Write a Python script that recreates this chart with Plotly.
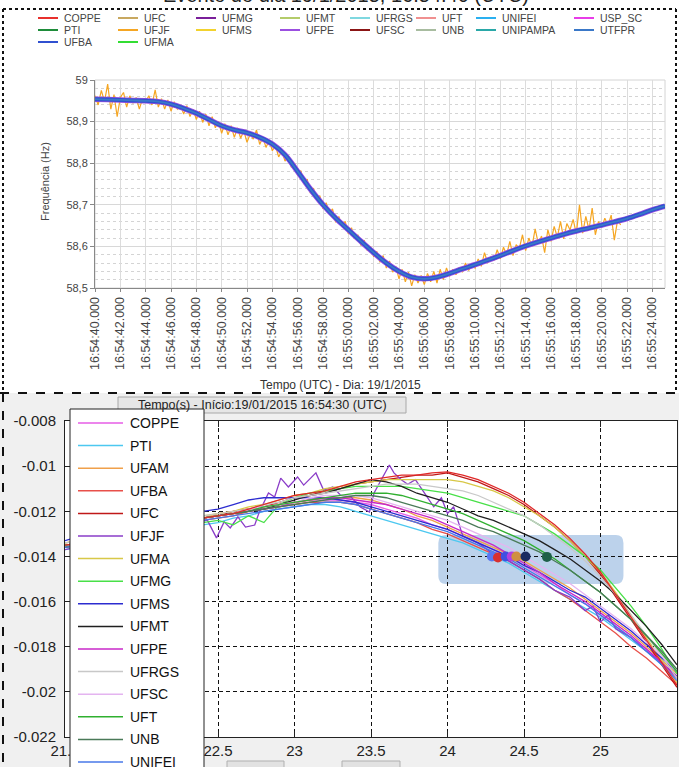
import plotly.graph_objects as go
from datetime import datetime, timedelta

W, H = 679, 767

# ---------------- TOP PANEL DATA ----------------
top_start = datetime(2015, 1, 19, 16, 54, 40)
top_tick_seconds = list(range(0, 46, 2))

base_seconds = list(range(46))
base_freq = [58.954, 58.953, 58.952, 58.951, 58.950, 58.948, 58.942, 58.932, 58.920, 58.905,
             58.890, 58.880, 58.873, 58.862, 58.846, 58.820, 58.780, 58.738, 58.700, 58.668,
             58.640, 58.612, 58.585, 58.560, 58.540, 58.526, 58.522, 58.526, 58.535, 58.546,
             58.556, 58.567, 58.578, 58.590, 58.601, 58.611, 58.620, 58.629, 58.637, 58.644,
             58.651, 58.659, 58.667, 58.677, 58.688, 58.697]

ufjf_seconds = [i * 0.25 for i in range(167)]
ufjf_freq = [58.962, 58.940, 58.975, 58.948, 58.990, 58.930, 58.965, 58.912,
             58.958, 58.970, 58.935, 58.962, 58.944, 58.958, 58.930, 58.955,
             58.948, 58.962, 58.940, 58.976, 58.935, 58.955, 58.930, 58.952,
             58.925, 58.948, 58.930, 58.940, 58.918, 58.938, 58.912, 58.930,
             58.905, 58.925, 58.898, 58.918, 58.890, 58.912, 58.885, 58.900,
             58.872, 58.895, 58.868, 58.890, 58.862, 58.885, 58.860, 58.878,
             58.850, 58.870, 58.858, 58.880, 58.845, 58.862, 58.838, 58.855,
             58.830, 58.842, 58.815, 58.830, 58.805, 58.818, 58.790, 58.800,
             58.770, 58.782, 58.750, 58.762, 58.728, 58.740, 58.712, 58.722,
             58.690, 58.705, 58.680, 58.690, 58.658, 58.672, 58.648, 58.660,
             58.630, 58.645, 58.618, 58.628, 58.602, 58.615, 58.590, 58.600,
             58.575, 58.588, 58.562, 58.578, 58.548, 58.565, 58.538, 58.552,
             58.522, 58.545, 58.515, 58.538, 58.505, 58.532, 58.512, 58.530,
             58.508, 58.535, 58.515, 58.540, 58.512, 58.545, 58.520, 58.548,
             58.528, 58.545, 58.532, 58.550, 58.538, 58.560, 58.542, 58.556,
             58.548, 58.570, 58.552, 58.585, 58.560, 58.575, 58.566, 58.592,
             58.570, 58.598, 58.580, 58.612, 58.578, 58.604, 58.595, 58.628,
             58.590, 58.620, 58.600, 58.642, 58.606, 58.625, 58.585, 58.640,
             58.612, 58.648, 58.622, 58.660, 58.618, 58.655, 58.640, 58.665,
             58.630, 58.700, 58.632, 58.672, 58.640, 58.692, 58.628, 58.660,
             58.645, 58.668, 58.650, 58.675, 58.615, 58.662, 58.652]

top_names = ["COPPE", "PTI", "UFBA", "UFC", "UFJF", "UFMA", "UFMG", "UFMS", "UFMT",
             "UFPE", "UFRGS", "UFSC", "UFT", "UNB", "UNIFEI", "UNIPAMPA", "USP_SC", "UTFPR"]
top_colors = ["#e8302c", "#1e8c3a", "#3050d0", "#c8a860", "#f5a623", "#33dd33", "#7a1f9a",
              "#f2d22e", "#b4cc6a", "#9b4fe0", "#7fd8e0", "#8b1515", "#f09090", "#a8bca0",
              "#2ab0f0", "#2aa8a8", "#e83ce8", "#3a78c8"]
top_legend_columns = [["COPPE", "PTI", "UFBA"], ["UFC", "UFJF", "UFMA"], ["UFMG", "UFMS"],
                      ["UFMT", "UFPE"], ["UFRGS", "UFSC"], ["UFT", "UNB"],
                      ["UNIFEI", "UNIPAMPA"], ["USP_SC", "UTFPR"]]
top_yticks = [58.5, 58.6, 58.7, 58.8, 58.9, 59.0]
top_yticktext = ["58,5", "58,6", "58,7", "58,8", "58,9", "59"]

# ---------------- BOTTOM PANEL DATA ----------------
grid_x = [round(21.5 + 0.1 * i, 1) for i in range(41)]

coppe = [-0.0135, -0.0134, -0.0132, -0.0131, -0.0129, -0.0128, -0.0127, -0.0126, -0.0124, -0.0123,
         -0.0122, -0.0121, -0.0120, -0.0118, -0.0117, -0.0116, -0.0115, -0.0115, -0.0115, -0.0116,
         -0.0117, -0.0119, -0.0121, -0.0123, -0.0126, -0.0128, -0.0131, -0.0134, -0.0137, -0.0140,
         -0.0144, -0.0148, -0.0152, -0.0157, -0.0161, -0.0166, -0.0171, -0.0176, -0.0181, -0.0187, -0.0193]
pti = [-0.0137, -0.0136, -0.0134, -0.0133, -0.0131, -0.0130, -0.0129, -0.0128, -0.0127, -0.0126,
       -0.0125, -0.0123, -0.0122, -0.0120, -0.0119, -0.0118, -0.0117, -0.0117, -0.0118, -0.0120,
       -0.0122, -0.0124, -0.0126, -0.0128, -0.0130, -0.0132, -0.0134, -0.0137, -0.0140, -0.0143,
       -0.0147, -0.0151, -0.0155, -0.0159, -0.0163, -0.0167, -0.0172, -0.0177, -0.0182, -0.0188, -0.0194]
ufam = [-0.0134, -0.0133, -0.0131, -0.0130, -0.0129, -0.0127, -0.0126, -0.0125, -0.0124, -0.0123,
        -0.0121, -0.0120, -0.0119, -0.0118, -0.0117, -0.0116, -0.0115, -0.0114, -0.0114, -0.0114,
        -0.0115, -0.0117, -0.0119, -0.0122, -0.0124, -0.0127, -0.0130, -0.0133, -0.0136, -0.0139,
        -0.0142, -0.0146, -0.0150, -0.0154, -0.0159, -0.0164, -0.0169, -0.0174, -0.0180, -0.0186, -0.0192]
ufba = [-0.0136, -0.0135, -0.0133, -0.0132, -0.0130, -0.0129, -0.0128, -0.0126, -0.0125, -0.0124,
        -0.0123, -0.0122, -0.0120, -0.0119, -0.0118, -0.0117, -0.0116, -0.0116, -0.0116, -0.0117,
        -0.0119, -0.0121, -0.0123, -0.0125, -0.0128, -0.0130, -0.0133, -0.0136, -0.0139, -0.0142,
        -0.0146, -0.0150, -0.0155, -0.0159, -0.0164, -0.0169, -0.0174, -0.0180, -0.0185, -0.0191, -0.0197]
ufc = [-0.0136, -0.0134, -0.0133, -0.0131, -0.0130, -0.0128, -0.0127, -0.0125, -0.0124, -0.0123,
       -0.0122, -0.0120, -0.0119, -0.0118, -0.0116, -0.0114, -0.0113, -0.0111, -0.0110, -0.0108,
       -0.0107, -0.0106, -0.0105, -0.0104, -0.0104, -0.0103, -0.0105, -0.0107, -0.0110, -0.0113,
       -0.0117, -0.0122, -0.0127, -0.0133, -0.0140, -0.0148, -0.0158, -0.0168, -0.0178, -0.0188, -0.0198]
ufjf_x = [21.5, 21.7, 21.9, 22.1, 22.3, 22.43, 22.49, 22.54, 22.58, 22.63,
          22.68, 22.74, 22.77, 22.83, 22.87, 22.91, 22.96, 23.02, 23.06, 23.14,
          23.19, 23.25, 23.30, 23.37, 23.43, 23.49, 23.52, 23.58, 23.62, 23.65,
          23.70, 23.74, 23.79, 23.84, 23.91, 23.96, 24.00, 24.04, 24.10, 24.20,
          24.30, 24.40, 24.50, 24.60, 24.70, 24.80, 24.90, 24.95, 25.00, 25.05,
          25.10, 25.20, 25.30, 25.40, 25.50]
ufjf_y = [-0.0137, -0.0134, -0.0131, -0.0128, -0.0126, -0.01239, -0.01318, -0.01247, -0.01274, -0.01225,
          -0.01270, -0.01261, -0.01203, -0.01119, -0.01137, -0.01053, -0.01092, -0.01048, -0.01084, -0.01030,
          -0.01106, -0.01092, -0.01128, -0.01137, -0.01181, -0.01203, -0.01119, -0.01048, -0.00995, -0.01030,
          -0.01061, -0.0108, -0.0106, -0.0111, -0.0118, -0.0114, -0.0121, -0.0118, -0.0131, -0.0134,
          -0.0139, -0.0142, -0.0146, -0.0150, -0.0155, -0.0158, -0.0164, -0.0162, -0.0169, -0.0166,
          -0.0172, -0.0176, -0.0182, -0.0187, -0.0193]
ufma = [-0.0134, -0.0133, -0.0131, -0.0130, -0.0128, -0.0127, -0.0126, -0.0124, -0.0123, -0.0122,
        -0.0121, -0.0120, -0.0118, -0.0117, -0.0115, -0.0113, -0.0112, -0.0110, -0.0109, -0.0108,
        -0.0107, -0.0106, -0.0106, -0.0106, -0.0106, -0.0106, -0.0107, -0.0109, -0.0111, -0.0114,
        -0.0118, -0.0122, -0.0127, -0.0133, -0.0140, -0.0147, -0.0156, -0.0166, -0.0176, -0.0186, -0.0196]
ufmg = [-0.0136, -0.0135, -0.0133, -0.0132, -0.0130, -0.0129, -0.0128, -0.0127, -0.0126, -0.0125,
        -0.0124, -0.0126, -0.0122, -0.0125, -0.0117, -0.0114, -0.0112, -0.0111, -0.0110, -0.0109,
        -0.0109, -0.0109, -0.0109, -0.0110, -0.0111, -0.0112, -0.0114, -0.0116, -0.0118, -0.0120,
        -0.0122, -0.0126, -0.0130, -0.0135, -0.0140, -0.0146, -0.0154, -0.0162, -0.0171, -0.0181, -0.0192]
ufms = [-0.0133, -0.0131, -0.0130, -0.0128, -0.0127, -0.0126, -0.0124, -0.0123, -0.0122, -0.0120,
        -0.0119, -0.0117, -0.0115, -0.0114, -0.0114, -0.0114, -0.0114, -0.0114, -0.0115, -0.0116,
        -0.0118, -0.0120, -0.0122, -0.0124, -0.0126, -0.0128, -0.0131, -0.0134, -0.0137, -0.0140,
        -0.0144, -0.0147, -0.0151, -0.0155, -0.0158, -0.0163, -0.0168, -0.0173, -0.0179, -0.0185, -0.0191]
ufmt = [-0.0135, -0.0134, -0.0132, -0.0131, -0.0129, -0.0128, -0.0127, -0.0125, -0.0124, -0.0123,
        -0.0122, -0.0121, -0.0120, -0.0119, -0.0117, -0.0115, -0.0113, -0.0112, -0.0110, -0.0108,
        -0.0106, -0.0107, -0.0109, -0.0112, -0.0114, -0.0116, -0.0119, -0.0122, -0.0124, -0.0127,
        -0.0130, -0.0133, -0.0137, -0.0141, -0.0146, -0.0151, -0.0157, -0.0164, -0.0171, -0.0179, -0.0188]
ufpe = [-0.0135, -0.0134, -0.0132, -0.0131, -0.0130, -0.0128, -0.0127, -0.0126, -0.0125, -0.0123,
        -0.0122, -0.0121, -0.0120, -0.0119, -0.0118, -0.0116, -0.0115, -0.0114, -0.0114, -0.0115,
        -0.0116, -0.0117, -0.0119, -0.0121, -0.0123, -0.0126, -0.0129, -0.0132, -0.0135, -0.0139,
        -0.0143, -0.0147, -0.0152, -0.0156, -0.0160, -0.0165, -0.0170, -0.0175, -0.0181, -0.0187, -0.0194]
ufrgs = [-0.0134, -0.0133, -0.0131, -0.0130, -0.0129, -0.0127, -0.0126, -0.0125, -0.0123, -0.0122,
         -0.0121, -0.0120, -0.0119, -0.0117, -0.0116, -0.0114, -0.0113, -0.0112, -0.0111, -0.0110,
         -0.0109, -0.0108, -0.0108, -0.0108, -0.0109, -0.0110, -0.0111, -0.0113, -0.0116, -0.0119,
         -0.0122, -0.0126, -0.0131, -0.0136, -0.0142, -0.0149, -0.0157, -0.0166, -0.0175, -0.0184, -0.0194]
ufsc = [-0.0135, -0.0134, -0.0132, -0.0131, -0.0129, -0.0128, -0.0127, -0.0125, -0.0124, -0.0123,
        -0.0122, -0.0121, -0.0119, -0.0118, -0.0117, -0.0116, -0.0114, -0.0113, -0.0113, -0.0113,
        -0.0114, -0.0116, -0.0118, -0.0120, -0.0122, -0.0124, -0.0127, -0.0130, -0.0133, -0.0136,
        -0.0140, -0.0144, -0.0148, -0.0152, -0.0157, -0.0162, -0.0167, -0.0172, -0.0178, -0.0184, -0.0191]
uft = [-0.0135, -0.0134, -0.0132, -0.0131, -0.0129, -0.0128, -0.0127, -0.0125, -0.0124, -0.0123,
       -0.0122, -0.0121, -0.0120, -0.0118, -0.0117, -0.0116, -0.0115, -0.0114, -0.0113, -0.0112,
       -0.0112, -0.0112, -0.0113, -0.0115, -0.0117, -0.0119, -0.0121, -0.0124, -0.0127, -0.0130,
       -0.0133, -0.0137, -0.0141, -0.0146, -0.0151, -0.0156, -0.0162, -0.0168, -0.0175, -0.0183, -0.0191]
unb = [-0.0136, -0.0135, -0.0133, -0.0132, -0.0130, -0.0129, -0.0127, -0.0126, -0.0125, -0.0123,
       -0.0122, -0.0121, -0.0120, -0.0119, -0.0118, -0.0117, -0.0116, -0.0115, -0.0114, -0.0113,
       -0.0113, -0.0114, -0.0116, -0.0118, -0.0120, -0.0122, -0.0124, -0.0127, -0.0129, -0.0132,
       -0.0135, -0.0138, -0.0142, -0.0146, -0.0151, -0.0156, -0.0162, -0.0168, -0.0175, -0.0182, -0.0190]
unifei = [-0.0136, -0.0135, -0.0133, -0.0132, -0.0130, -0.0129, -0.0128, -0.0126, -0.0125, -0.0124,
          -0.0123, -0.0122, -0.0121, -0.0120, -0.0119, -0.0118, -0.0117, -0.0116, -0.0116, -0.0117,
          -0.0119, -0.0121, -0.0123, -0.0125, -0.0127, -0.0129, -0.0132, -0.0135, -0.0138, -0.0141,
          -0.0145, -0.0149, -0.0153, -0.0157, -0.0161, -0.0166, -0.0171, -0.0176, -0.0182, -0.0188, -0.0195]
usp_sc = [-0.0135, -0.0134, -0.0132, -0.0131, -0.0129, -0.0128, -0.0126, -0.0125, -0.0124, -0.0123,
          -0.0122, -0.0121, -0.0119, -0.0117, -0.0115, -0.0113, -0.0112, -0.0111, -0.0109, -0.0107,
          -0.0106, -0.0105, -0.0104, -0.0104, -0.0103, -0.01025, -0.0104, -0.0106, -0.0109, -0.0112,
          -0.0116, -0.0121, -0.0126, -0.0132, -0.0139, -0.0147, -0.0157, -0.0167, -0.0177, -0.0187, -0.0197]

bottom_names = ["COPPE", "PTI", "UFAM", "UFBA", "UFC", "UFJF", "UFMA", "UFMG", "UFMS",
                "UFMT", "UFPE", "UFRGS", "UFSC", "UFT", "UNB", "UNIFEI", "USP_SC"]
bottom_series = [coppe, pti, ufam, ufba, ufc, None, ufma, ufmg, ufms,
                 ufmt, ufpe, ufrgs, ufsc, uft, unb, unifei, usp_sc]
bottom_colors = ["#e65ce6", "#4cc8f0", "#f0a04a", "#e8504a", "#c01818", "#8a3cc8", "#d8c848",
                 "#48e048", "#2c2cd0", "#202020", "#c828c8", "#c8c8c8", "#e4b4f0", "#30b030",
                 "#4a7a58", "#4878e8", "#e02828"]

cursor_x = [24.29, 24.33, 24.38, 24.42, 24.45, 24.51, 24.65]
cursor_y = [-0.0140, -0.01405, -0.0140, -0.0140, -0.0140, -0.0140, -0.01402]
cursor_colors = ["#5a78f0", "#d83030", "#4050e0", "#b040e0", "#d09040", "#1a2a60", "#1e6048"]

bottom_xticks = [21.5, 22.0, 22.5, 23.0, 23.5, 24.0, 24.5, 25.0, 25.5]
bottom_xticktext = ["21.5", "", "22.5", "23", "23.5", "24", "24.5", "25", "25.5"]
bottom_yticks = [-0.022, -0.020, -0.018, -0.016, -0.014, -0.012, -0.010, -0.008]
bottom_yticktext = ["-0.022", "-0.02", "-0.018", "-0.016", "-0.014", "-0.012", "-0.01", "-0.008"]

# ---------------- helpers ----------------
def fx(p):
    return p / W

def fy(p):
    return 1 - p / H

shapes = []
annotations = []
FONT = "Liberation Sans Narrow, Arial Narrow, Liberation Sans, Arial, sans-serif"

def pline(x0, y0, x1, y1, color, width=1, dash=None, layer="above"):
    shapes.append(dict(type="line", xref="paper", yref="paper", x0=fx(x0), y0=fy(y0),
                       x1=fx(x1), y1=fy(y1), layer=layer,
                       line=dict(color=color, width=width, dash=dash)))

def prect(x0, y0, x1, y1, fill, line_color=None, width=1, layer="above"):
    shapes.append(dict(type="rect", xref="paper", yref="paper", x0=fx(x0), y0=fy(y1),
                       x1=fx(x1), y1=fy(y0), layer=layer, fillcolor=fill,
                       line=dict(color=line_color if line_color else "rgba(0,0,0,0)",
                                 width=width if line_color else 0)))

def ptext(x, y, text, size, color="#222", xanchor="center", yanchor="middle", angle=0, family=None):
    annotations.append(dict(x=fx(x), y=fy(y), xref="paper", yref="paper", text=text,
                            showarrow=False, xanchor=xanchor, yanchor=yanchor, textangle=angle,
                            font=dict(size=size, color=color, family=family or FONT)))

fig = go.Figure()

# ---------------- top traces ----------------
base_times = [top_start + timedelta(seconds=s) for s in base_seconds]
ufjf_times = [top_start + timedelta(seconds=s) for s in ufjf_seconds]
cmap = dict(zip(top_names, top_colors))
for name in top_names:
    if name in ("UFJF", "UFBA", "UTFPR", "UFPE"):
        continue
    fig.add_trace(go.Scatter(x=base_times, y=base_freq, mode="lines", name=name,
                             line=dict(color=cmap[name], width=2), xaxis="x", yaxis="y"))
fig.add_trace(go.Scatter(x=ufjf_times, y=ufjf_freq, mode="lines", name="UFJF",
                         line=dict(color=cmap["UFJF"], width=1.2), xaxis="x", yaxis="y"))
fig.add_trace(go.Scatter(x=base_times, y=base_freq, mode="lines", name="UFPE",
                         line=dict(color=cmap["UFPE"], width=5.5, shape="spline"), xaxis="x", yaxis="y"))
fig.add_trace(go.Scatter(x=base_times, y=base_freq, mode="lines", name="UFBA",
                         line=dict(color=cmap["UFBA"], width=4, shape="spline"), xaxis="x", yaxis="y"))
fig.add_trace(go.Scatter(x=base_times, y=base_freq, mode="lines", name="UTFPR",
                         line=dict(color=cmap["UTFPR"], width=1.8, shape="spline"), xaxis="x", yaxis="y"))

# ---------------- bottom traces ----------------
for name, ys, col in zip(bottom_names, bottom_series, bottom_colors):
    if name == "UFJF":
        xs, yv = ufjf_x, ufjf_y
    else:
        xs, yv = grid_x, ys
    fig.add_trace(go.Scatter(x=xs, y=yv, mode="lines", name=name,
                             line=dict(color=col, width=1.3), xaxis="x2", yaxis="y2"))
fig.add_trace(go.Scatter(x=cursor_x, y=cursor_y, mode="markers", name="cursor",
                         marker=dict(color=cursor_colors, size=10, line=dict(width=0)),
                         xaxis="x2", yaxis="y2"))

# ---------------- decorations ----------------
SEP_Y = 393
prect(0, SEP_Y, W, H + 5, "#f0f0f0", layer="below")
prect(65, 421, 677, 737, "white", layer="below")
hx0, hx1, hy0, hy1 = 23.94, 25.15, -0.01522, -0.01305
rx, ry = 0.05, 0.00035
path = (f"M {hx0+rx},{hy1} L {hx1-rx},{hy1} Q {hx1},{hy1} {hx1},{hy1-ry} "
        f"L {hx1},{hy0+ry} Q {hx1},{hy0} {hx1-rx},{hy0} L {hx0+rx},{hy0} "
        f"Q {hx0},{hy0} {hx0},{hy0+ry} L {hx0},{hy1-ry} Q {hx0},{hy1} {hx0+rx},{hy1} Z")
shapes.append(dict(type="path", xref="x2", yref="y2", path=path, layer="below",
                   fillcolor="rgba(70,130,200,0.36)", line=dict(width=0)))
prect(95, 80, 665, 288, "rgba(0,0,0,0)", "#d4d4d4", 1, layer="below")

pline(3, 9, 676, 9, "#111", 2, "dot")
pline(3, 9, 3, SEP_Y, "#111", 2, "dot")
pline(676, 9, 676, SEP_Y, "#111", 2, "dot")
pline(0, SEP_Y, W, SEP_Y, "#111", 2, "dash")
pline(3, SEP_Y, 3, H, "#111", 2, "dash")

prect(118, 397, 406, 413, "#e6e6e6", "#a8a8a8", 1)
ptext(262, 405, "Tempo(s) - Início:19/01/2015 16:54:30 (UTC)", 12.5, "#222")

prect(227, 761, 284, 780, "#e2e2e2", "#b0b0b0", 1)
prect(342, 761, 400, 780, "#e2e2e2", "#b0b0b0", 1)

prect(70, 409, 204, 800, "white", "#222", 1)
for i, (name, col) in enumerate(zip(bottom_names, bottom_colors)):
    yy = 423 + i * 22.6
    pline(78, yy, 123, yy, col, 1.5)
    ptext(128, yy, name, 14, "#111", xanchor="left")

col_x = [38, 118, 196, 280, 350, 416, 476, 574]
row_y = [18, 30, 42]
for cx, names in zip(col_x, top_legend_columns):
    for r, name in enumerate(names):
        pline(cx, row_y[r], cx + 20, row_y[r], cmap[name], 2)
        ptext(cx + 24, row_y[r], name, 10.5, "#444", xanchor="left")

ptext(346, 8, "Evento do dia 19/1/2015, 16:54:40 (UTC)", 20, "#222", yanchor="bottom",
      family="Liberation Sans, Arial")

ptext(45, 182, "Frequência (Hz)", 11, "#444", angle=-90)
ptext(340, 385, "Tempo (UTC) - Dia: 19/1/2015", 12, "#333")

fig.update_layout(
    width=W, height=H, margin=dict(l=0, r=0, t=0, b=0),
    paper_bgcolor="white", plot_bgcolor="rgba(0,0,0,0)", showlegend=False,
    template="none", font=dict(family=FONT, color="#333"),
    shapes=shapes, annotations=annotations,
    xaxis=dict(domain=[fx(95), fx(665)], anchor="y", type="date",
               range=[top_start, top_start + timedelta(seconds=45)],
               tickmode="array", tickvals=[top_start + timedelta(seconds=s) for s in top_tick_seconds],
               tickformat="%H:%M:%S.%L", tickangle=-90, ticks="outside", ticklen=3,
               tickcolor="#888", showline=True, linecolor="#888", linewidth=1,
               showgrid=True, gridcolor="#dcdcdc", zeroline=False, automargin=False,
               tickfont=dict(size=12.5, color="#444", family=FONT)),
    yaxis=dict(domain=[fy(288), fy(80)], anchor="x", range=[58.5, 59.0],
               tickmode="array", tickvals=top_yticks, ticktext=top_yticktext,
               ticks="outside", ticklen=4, tickcolor="#888", showline=True, linecolor="#888",
               showgrid=True, gridcolor="#d8d8d8", zeroline=False, automargin=False,
               minor=dict(tickmode="linear", tick0=58.5, dtick=0.02, showgrid=True,
                          gridcolor="#d4d4d4", griddash="dot", ticks=""),
               tickfont=dict(size=11, color="#444", family=FONT)),
    xaxis2=dict(domain=[fx(65), fx(677)], anchor="y2", range=[21.5, 25.5],
                tickmode="array", tickvals=bottom_xticks, ticktext=bottom_xticktext,
                ticks="inside", ticklen=6, tickcolor="#222", showline=True, linecolor="#222",
                mirror="ticks", showgrid=True, gridcolor="#111", griddash="4px,3px", gridwidth=1.2,
                zeroline=False, automargin=False,
                tickfont=dict(size=15, color="#222", family=FONT)),
    yaxis2=dict(domain=[fy(737), fy(421)], anchor="x2", range=[-0.022, -0.008],
                tickmode="array", tickvals=bottom_yticks, ticktext=bottom_yticktext,
                ticks="inside", ticklen=6, tickcolor="#222", showline=True, linecolor="#222",
                mirror="ticks", showgrid=True, gridcolor="#111", griddash="4px,3px", gridwidth=1.2,
                zeroline=False, automargin=False, ticklabelstandoff=5,
                tickfont=dict(size=15, color="#222", family=FONT)),
)

fig.write_html("out.html", config={"displayModeBar": False},
               post_script="document.body.style.margin='0px';")
